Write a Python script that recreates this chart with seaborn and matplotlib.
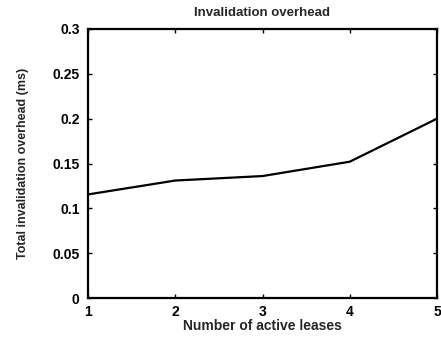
import matplotlib
matplotlib.use("Agg")
import matplotlib.pyplot as plt
import seaborn as sns
import pandas as pd

leases = [1, 2, 3, 4, 5]
overhead = [0.1155, 0.131, 0.136, 0.152, 0.200]

sns.set_theme(style="ticks")
plt.rcParams['font.family'] = ['Liberation Sans', 'DejaVu Sans']
plt.rcParams['font.weight'] = 'bold'

df = pd.DataFrame({"leases": leases, "overhead": overhead})

fig = plt.figure(figsize=(4.41, 3.37), dpi=100)
ax = fig.add_axes([88/441, 1 - 298/337, (437-88)/441, (298-29)/337])
sns.lineplot(data=df, x="leases", y="overhead", ax=ax, color="black", linewidth=1.6)

ax.set_xlim(1, 5)
ax.set_ylim(0, 0.3)
ax.set_xticks([1, 2, 3, 4, 5])
ax.set_yticks([0, 0.05, 0.1, 0.15, 0.2, 0.25, 0.3])
ax.set_yticklabels(["0", "0.05", "0.1", "0.15", "0.2", "0.25", "0.3"])
ax.tick_params(direction="in", top=True, right=True, labelsize=10, length=3, width=1, colors="black")
ax.tick_params(axis="y", pad=6)
ax.tick_params(axis="x", pad=5)
for lbl in ax.get_xticklabels() + ax.get_yticklabels():
    lbl.set_fontweight("bold")
for s in ax.spines.values():
    s.set_linewidth(1.6)
    s.set_color("black")

ax.set_title("Invalidation overhead", fontsize=9.5, fontweight="bold", pad=9)
ax.set_xlabel("Number of active leases", fontsize=10, fontweight="bold", labelpad=0)
ax.set_ylabel("Total invalidation overhead (ms)", fontsize=9, fontweight="bold", labelpad=17)

fig.savefig("out.png", dpi=100)
